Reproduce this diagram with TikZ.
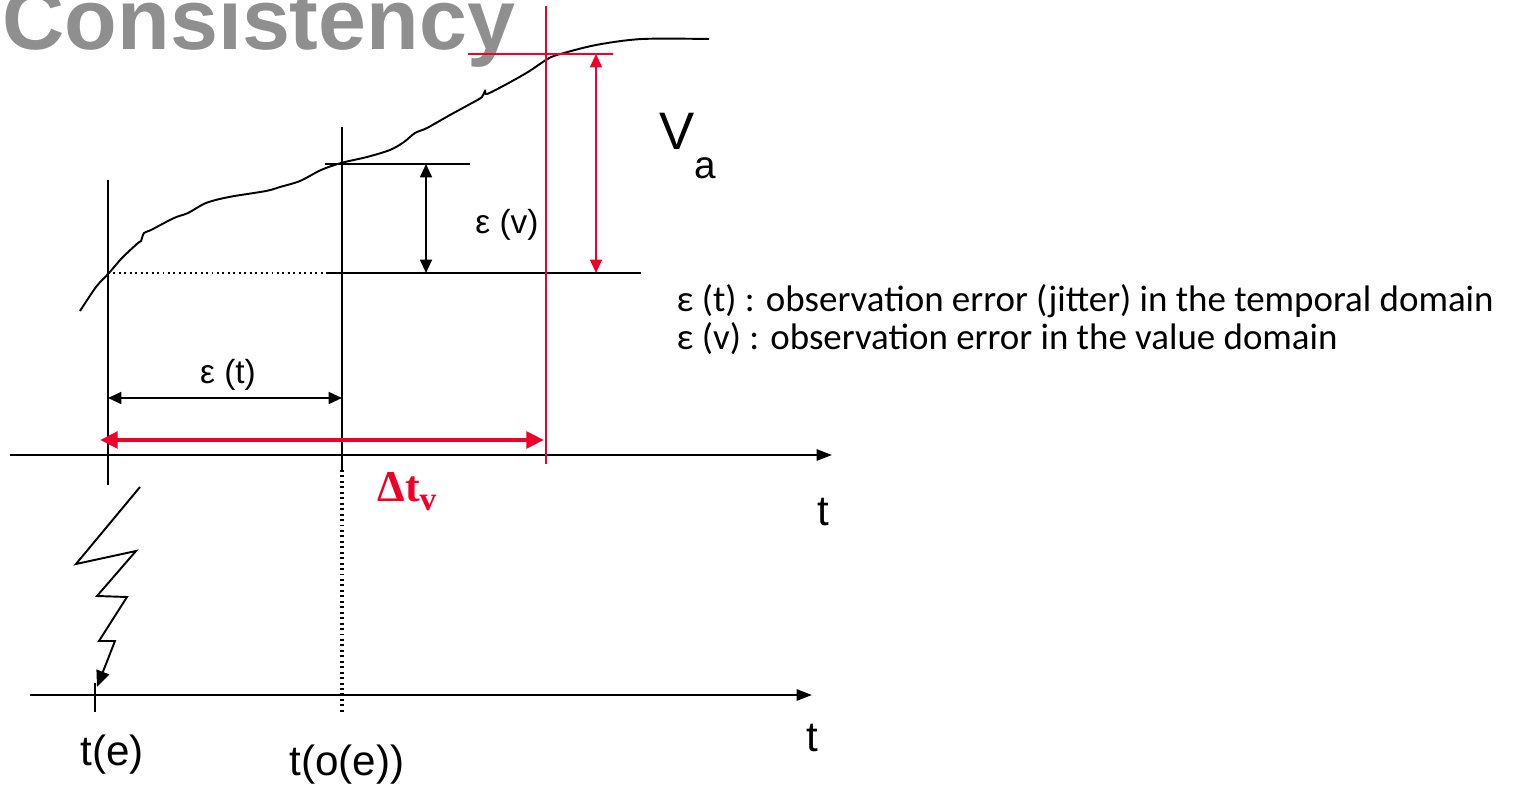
\documentclass[tikz,border=0pt]{standalone}
\usepackage{fontspec}
\setmainfont{Liberation Sans}
\newfontfamily\deltafont{Liberation Serif}
\newfontfamily\notefont{Carlito}
\usetikzlibrary{arrows.meta,positioning}
\definecolor{alarmred}{RGB}{240,0,40}
\definecolor{titlegray}{RGB}{143,143,143}

\begin{document}
\begin{tikzpicture}[x=0.01cm, y=-0.01cm,
    axis/.style={draw=black, line width=0.6pt, -{Triangle[length=4.4pt,width=3.2pt]}},
    guide/.style={draw=black, line width=0.55pt},
    redguide/.style={draw=alarmred, line width=0.5pt},
    dimarr/.style={draw=black, line width=0.55pt, {Triangle[length=3.8pt,width=3.4pt]}-{Triangle[length=3.8pt,width=3.4pt]}},
    reddim/.style={draw=alarmred, line width=0.55pt, {Triangle[length=3.8pt,width=3.4pt]}-{Triangle[length=3.8pt,width=3.4pt]}},
    bigred/.style={draw=alarmred, line width=1.3pt, {Triangle[length=5pt,width=4.6pt]}-{Triangle[length=5pt,width=4.6pt]}},
    lbl/.style={inner sep=0pt, font=\fontsize{9.5}{11}\selectfont},
    axislbl/.style={inner sep=0pt, font=\fontsize{12}{14}\selectfont},
    note/.style={inner sep=0pt, anchor=west, font=\notefont\fontsize{10.5}{12}\selectfont}
  ]
  \useasboundingbox (0,0) rectangle (1517,785);

  % title
  \node[anchor=base west, inner sep=0pt, text=titlegray, font=\bfseries\fontsize{24.5}{25}\selectfont] (title) at (2,50) {Consistency};

  % time axes
  \coordinate (ax1s) at (10,455);
  \coordinate (ax1e) at (832,455);
  \coordinate (ax2s) at (30,695);
  \coordinate (ax2e) at (812,695);
  \draw[axis] (ax1s) -- (ax1e);
  \draw[axis] (ax2s) -- (ax2e);

  % real-time value of the entity
  \draw[line width=0.55pt] plot[smooth, tension=0.5] coordinates {
    (80,311) (96,287) (109,273) (122,258) (138,243) (141,241) (144,233)
    (151,230) (174,218) (188,213) (206,203) (229,197) (266,191) (280,187)
    (300,181) (321,170) (341,163) (367,157) (390,150) (404,142) (415,133)
    (427,128) (450,115) (472,103) (482,97) (485,91) (487,94) (505,85)
    (528,72) (546,60) (557,55) (596,45) (642,39) (709,39)};

  % event / observation instants
  \coordinate (ev top) at (108,180);
  \coordinate (ev bot) at (108,485);
  \coordinate (obs top) at (342,127);
  \coordinate (obs mid) at (342,470);
  \coordinate (obs bot) at (342,712);
  \draw[guide] (ev top) -- (ev bot);
  \draw[guide] (obs top) -- (obs mid);
  \draw[guide, densely dotted, line width=0.9pt] (obs mid) -- (obs bot);
  \coordinate (tick top) at (95,683);
  \coordinate (tick bot) at (95,712);
  \draw[guide] (tick top) -- (tick bot);

  % value levels
  \coordinate (lvl1 a) at (325,164);
  \coordinate (lvl1 b) at (470,164);
  \coordinate (lvl0 a) at (328,273);
  \coordinate (lvl0 b) at (641,273);
  \coordinate (lvl0 ev) at (108,273);
  \draw[guide] (lvl1 a) -- (lvl1 b);
  \draw[guide] (lvl0 a) -- (lvl0 b);
  \draw[guide, densely dotted, line width=0.6pt] (lvl0 ev) -- (lvl0 a);

  % accuracy interval
  \coordinate (lvl2 a) at (468,54);
  \coordinate (lvl2 b) at (613,54);
  \coordinate (acc top) at (546,6);
  \coordinate (acc bot) at (546,464);
  \draw[redguide] (lvl2 a) -- (lvl2 b);
  \draw[redguide] (acc top) -- (acc bot);

  % dimension arrows
  \coordinate (ev a) at (426,164);
  \coordinate (ev b) at (426,273);
  \draw[dimarr] (ev a) -- (ev b);
  \coordinate (va a) at (596,54);
  \coordinate (va b) at (596,273);
  \draw[reddim] (va a) -- (va b);
  \coordinate (et a) at (108,398);
  \coordinate (et b) at (342,398);
  \draw[dimarr] (et a) -- (et b);
  \coordinate (dt a) at (100,440);
  \coordinate (dt b) at (544,440);
  \draw[bigred] (dt a) -- (dt b);

  % event occurrence
  \coordinate (bolt) at (97,687);
  \draw[line width=0.55pt, -{Triangle[length=4.6pt,width=3.8pt]}]
    (140,487) -- (76,564) -- (136,551) -- (97,596) -- (127,597)
    -- (99,641) -- (115,641) -- (bolt);

  % labels
  \node[lbl] (eps v) at (507,225) {ε (v)};
  \node[lbl] (eps t) at (228,375) {ε (t)};
  \node[inner sep=0pt, anchor=west, font=\fontsize{15}{16}\selectfont] (va) at (659,146)
    {V\raisebox{-1.05ex}{\fontsize{11}{11}\selectfont a}};
  \node[inner sep=0pt, text=alarmred, font=\deltafont\bfseries\fontsize{12.5}{14}\selectfont] (dtv) at (407,492)
    {Δt\raisebox{-0.45ex}{\fontsize{9.5}{10}\selectfont v}};
  \node[axislbl] (t1) at (823,512) {t};
  \node[axislbl] (t2) at (812,738) {t};
  \node[axislbl] (te) at (112,755) {t(e)};
  \node[axislbl] (toe) at (347,765) {t(o(e))};

  % legend
  \node[note] (note t) at (676,301) {ε (t) : observation error (jitter) in the temporal domain};
  \node[note] (note v) at (676,339) {ε (v) : observation error in the value domain};
\end{tikzpicture}
\end{document}
